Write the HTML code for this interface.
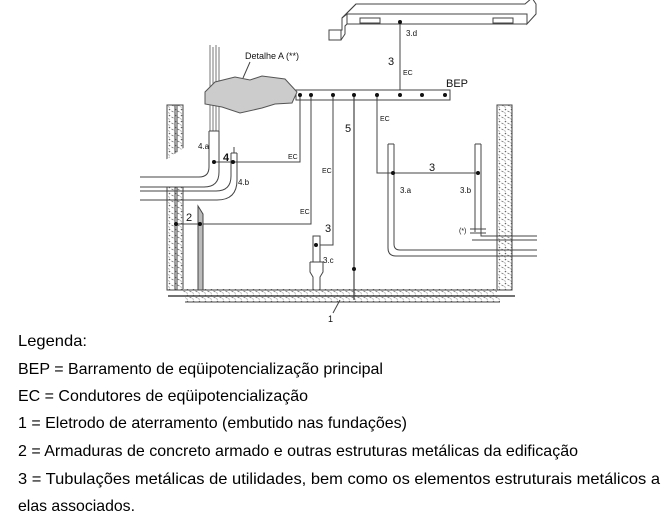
<!DOCTYPE html>
<html><head><meta charset="utf-8"><style>
html,body{margin:0;padding:0;background:#fff;}
svg{display:block;font-family:"Liberation Sans",sans-serif;}
</style></head><body>
<svg width="670" height="526" viewBox="0 0 670 526">
<defs>
<pattern id="h" width="6" height="6" patternUnits="userSpaceOnUse">
<rect width="6" height="6" fill="#fff"/>
<circle cx="1.5" cy="1.5" r="0.8" fill="#666"/><path d="M3.5 3 l2 1 M0.5 4.5 l1 1" stroke="#777" stroke-width="0.8"/>
</pattern>
</defs>
<g stroke="#444" fill="none" stroke-width="1">
<!-- top duct -->
<path d="M342 18 L356 4 L525 4 L532 -2 L536 4 L536 14 L527 24 L527 14 L347 14 Z" fill="#fff"/>
<path d="M347 14 L347 24 L527 24" />
<path d="M356 4 L342 18 L342 30 L329 30 L329 40 L341 40 L345 34 L345 26 L347 24"/>
<rect x="329" y="30" width="12" height="10" fill="#fff"/>
<rect x="360" y="18" width="20" height="5"/>
<rect x="493" y="18" width="20" height="5"/>
<line x1="400" y1="22" x2="400" y2="95"/>
<rect x="296" y="90" width="154" height="10" fill="#fff"/>
<path d="M210 45 V131 M213 47 V131 M216 45 V131 M219 47 V131" stroke="#777"/>
<path d="M205 92 L215 82 L235 77 L250 80 L262 76 L285 79 L297 92 L292 103 L275 104 L262 108 L240 113 L222 107 L205 104 Z" fill="#ccc" stroke="#555"/>
<line x1="250" y1="62" x2="243" y2="78"/>
<!-- walls -->
<rect x="167" y="105" width="16" height="185" fill="url(#h)"/>
<line x1="175" y1="105" x2="175" y2="290"/><line x1="177" y1="105" x2="177" y2="290"/>
<rect x="497" y="105" width="15" height="185" fill="url(#h)"/>
<!-- floor -->
<rect x="183" y="289" width="314" height="7" fill="url(#h)" stroke="none"/>
<rect x="185" y="297" width="315" height="5" fill="url(#h)" stroke="none"/>
<line x1="168" y1="290" x2="512" y2="290"/>
<line x1="168" y1="296" x2="515" y2="296" stroke-width="1.5"/>
<line x1="185" y1="302" x2="500" y2="302"/>
<line x1="340" y1="300" x2="333" y2="313"/>
<!-- pipes 4a/4b -->
<path d="M209 131 V167 Q209 177 199 177 H140 M219 131 V172 Q219 187 204 187 H140" fill="#fff"/>
<line x1="209" y1="131" x2="219" y2="131"/>
<path d="M231 153 V176 Q231 191 216 191 H140 M237 153 V180 Q237 200 217 200 H140"/>
<line x1="231" y1="153" x2="237" y2="153"/>
<line x1="234" y1="147" x2="234" y2="153"/>
<!-- EC lines -->
<path d="M300 95 V162 H214"/>
<path d="M311 95 V224 H176"/>
<path d="M333 95 V245 H316"/>
<path d="M354 95 V300" stroke-width="1.2"/>
<path d="M377 95 V173 H478"/>
<!-- steel 2 -->
<path d="M198 206 L203 214 V290 H198 Z" fill="#bbb"/>
<!-- 3.c -->
<path d="M313 236 H320 V262 H313 Z" fill="#fff"/>
<path d="M310 262 H323 V272 L320 277 V290 M310 262 V272 L313 277 V290"/>
<!-- right pipes -->
<path d="M388 144 V248 Q388 256 396 256 H537 M394 144 V244 Q394 250 400 250 H537" />
<line x1="388" y1="144" x2="394" y2="144"/>
<path d="M475 144 V232 M481 144 V236 H537 M472 240 H537"/>
<line x1="475" y1="144" x2="481" y2="144"/>
<path d="M470 229 H486 M470 233 H486"/>
</g>
<g fill="#111">
<circle cx="400" cy="22" r="2"/>
<circle cx="300" cy="95" r="2"/><circle cx="311" cy="95" r="2"/><circle cx="333" cy="95" r="2"/><circle cx="354" cy="95" r="2"/><circle cx="377" cy="95" r="2"/><circle cx="400" cy="95" r="2"/><circle cx="422" cy="95" r="2"/><circle cx="445" cy="95" r="2"/>
<circle cx="214" cy="162" r="2"/><circle cx="233" cy="162" r="2"/>
<circle cx="176" cy="224" r="2"/><circle cx="200" cy="224" r="2"/>
<circle cx="316" cy="245" r="2"/><circle cx="354" cy="269" r="2"/>
<circle cx="393" cy="173" r="2"/><circle cx="478" cy="173" r="2"/>
</g>
<g fill="#111" font-size="8">
<text x="406" y="36">3.d</text>
<text x="403" y="75" font-size="7">EC</text>
<text x="446" y="87" font-size="11">BEP</text>
<text x="245" y="59" font-size="9">Detalhe A (**)</text>
<text x="388" y="65" font-size="11">3</text>
<text x="345" y="132" font-size="11">5</text>
<text x="380" y="121" font-size="7">EC</text>
<text x="288" y="159" font-size="7">EC</text>
<text x="322" y="173" font-size="7">EC</text>
<text x="300" y="214" font-size="7">EC</text>
<text x="198" y="149">4.a</text>
<text x="223" y="161" font-size="11" font-weight="bold">4</text>
<text x="238" y="185">4.b</text>
<text x="186" y="221" font-size="11">2</text>
<text x="325" y="232" font-size="11">3</text>
<text x="323" y="263">3.c</text>
<text x="429" y="171" font-size="11">3</text>
<text x="400" y="193">3.a</text>
<text x="460" y="193">3.b</text>
<text x="459" y="233" font-size="7">(*)</text>
<text x="328" y="322" font-size="9">1</text>
</g>
<g fill="#000" font-size="16">
<text x="18" y="346" textLength="69" lengthAdjust="spacingAndGlyphs">Legenda:</text>
<text x="18" y="374" textLength="365" lengthAdjust="spacingAndGlyphs">BEP = Barramento de eqüipotencialização principal</text>
<text x="18" y="401" textLength="290" lengthAdjust="spacingAndGlyphs">EC = Condutores de eqüipotencialização</text>
<text x="18" y="428" textLength="389" lengthAdjust="spacingAndGlyphs">1 = Eletrodo de aterramento (embutido nas fundações)</text>
<text x="18" y="456" textLength="560" lengthAdjust="spacingAndGlyphs">2 = Armaduras de concreto armado e outras estruturas metálicas da edificação</text>
<text x="18" y="484" textLength="642" lengthAdjust="spacingAndGlyphs">3 = Tubulações metálicas de utilidades, bem como os elementos estruturais metálicos a</text>
<text x="18" y="511" textLength="117" lengthAdjust="spacingAndGlyphs">elas associados.</text>
</g>
</svg>
</body></html>
